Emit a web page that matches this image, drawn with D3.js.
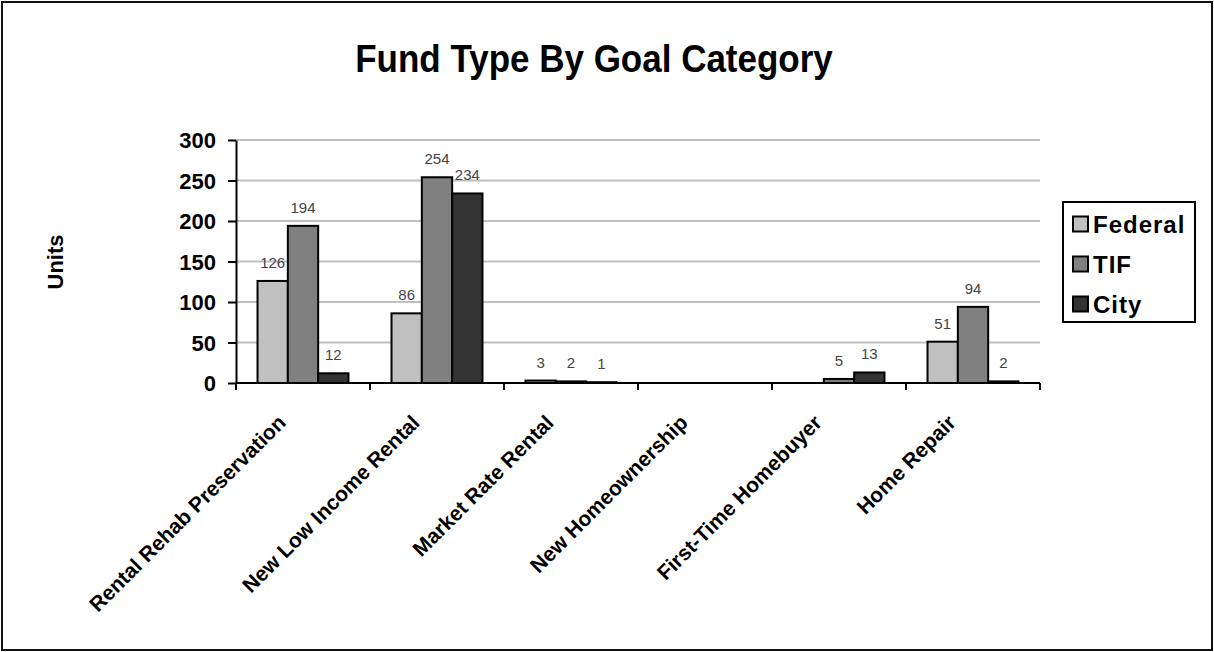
<!DOCTYPE html>
<html>
<head>
<meta charset="utf-8">
<script src="https://cdn.jsdelivr.net/npm/d3@7"></script>
<style>
  html, body { margin: 0; padding: 0; background: #fff; }
  svg { display: block; font-family: "Liberation Sans", Arial, sans-serif; }
</style>
</head>
<body>
<svg id="chart" width="1214" height="652"></svg>
<script>
// Goal categories and units per fund type
const categories = [
  "Rental Rehab Preservation",
  "New Low Income Rental",
  "Market Rate Rental",
  "New Homeownership",
  "First-Time Homebuyer",
  "Home Repair"
];
const seriesNames = ["Federal", "TIF", "City"];
const federal = [126, 86, 3, 0, 0, 51];
const tif = [194, 254, 2, 0, 5, 94];
const city = [12, 234, 1, 0, 13, 2];
const yTicks = [0, 50, 100, 150, 200, 250, 300];
const colors = ["#c0c0c0", "#808080", "#333333"];

const seriesValues = [federal, tif, city];

const svg = d3.select("#chart");
const W = 1214, H = 652;

// outer frame
svg.append("rect")
  .attr("x", 2).attr("y", 2).attr("width", W - 4).attr("height", H - 4)
  .attr("fill", "#fff").attr("stroke", "#111").attr("stroke-width", 2);

const plot = { left: 236, right: 1040, top: 140, bottom: 383 };

const x = d3.scaleBand().domain(categories).range([plot.left, plot.right]).padding(0);
const xs = d3.scaleBand().domain(seriesNames)
  .range([0, x.bandwidth()]).paddingInner(0).paddingOuter(0.71);
const y = d3.scaleLinear().domain([0, 300]).range([plot.bottom, plot.top]);

// title
svg.append("text")
  .attr("x", 594).attr("y", 72)
  .attr("text-anchor", "middle")
  .attr("font-size", 35).attr("font-weight", "bold")
  .attr("transform", "translate(0,-7) scale(1,1.1)")
  .text("Fund Type By Goal Category");

// gridlines
svg.append("g").selectAll("line")
  .data(yTicks.filter(d => d > 0))
  .join("line")
  .attr("x1", plot.left).attr("x2", plot.right)
  .attr("y1", d => y(d)).attr("y2", d => y(d))
  .attr("stroke", "#c0c0c0").attr("stroke-width", 2);

// bars
const groups = svg.append("g").selectAll("g")
  .data(categories)
  .join("g")
  .attr("transform", d => `translate(${x(d)},0)`);

groups.selectAll("rect")
  .data((c, i) => seriesNames.map((s, j) => ({ s, v: seriesValues[j][i], j })))
  .join("rect")
  .attr("x", d => xs(d.s))
  .attr("width", xs.bandwidth())
  .attr("y", d => y(d.v))
  .attr("height", d => y(0) - y(d.v))
  .attr("fill", d => colors[d.j])
  .attr("stroke", "#000").attr("stroke-width", 2)
  .style("display", d => d.v > 0 ? null : "none");

// value labels
groups.selectAll("text")
  .data((c, i) => seriesNames.map((s, j) => ({ s, v: seriesValues[j][i], j })).filter(d => d.v > 0))
  .join("text")
  .attr("x", d => xs(d.s) + xs.bandwidth() / 2)
  .attr("y", d => y(d.v) - 13)
  .attr("text-anchor", "middle")
  .attr("font-size", 15).attr("fill", "#444")
  .text(d => d.v);

// y axis
const yAxis = svg.append("g")
  .attr("transform", `translate(${plot.left},0)`)
  .call(d3.axisLeft(y).tickValues(yTicks).tickSize(8).tickPadding(12).tickSizeOuter(0));
yAxis.select(".domain").attr("stroke", "#000").attr("stroke-width", 2);
yAxis.selectAll(".tick line").attr("stroke", "#000").attr("stroke-width", 2);
yAxis.selectAll(".tick text")
  .attr("font-family", "Liberation Sans, Arial, sans-serif")
  .attr("font-size", 22).attr("font-weight", "bold").attr("fill", "#000")
  .attr("dy", "0.36em");

// x axis: ticks at category boundaries
const xAxis = svg.append("g").attr("transform", `translate(0,${plot.bottom})`);
xAxis.append("line")
  .attr("x1", plot.left).attr("x2", plot.right)
  .attr("stroke", "#000").attr("stroke-width", 2);
const boundaries = categories.map(c => x(c)).concat([x(categories[categories.length - 1]) + x.bandwidth()]);
xAxis.selectAll("line.tk")
  .data(boundaries)
  .join("line").attr("class", "tk")
  .attr("x1", d => d).attr("x2", d => d)
  .attr("y1", 0).attr("y2", 7)
  .attr("stroke", "#000").attr("stroke-width", 2);

// category labels, rotated
svg.append("g").selectAll("text")
  .data(categories)
  .join("text")
  .attr("transform", d => `translate(${x(d) + x.bandwidth() / 2 - 16},424) rotate(-45)`)
  .attr("text-anchor", "end")
  .attr("font-size", 21).attr("font-weight", "bold")
  .text(d => d);

// y axis title
svg.append("text")
  .attr("transform", "translate(63,262) rotate(-90)")
  .attr("text-anchor", "middle")
  .attr("font-size", 22).attr("font-weight", "bold")
  .text("Units");

// legend
const legend = svg.append("g");
legend.append("rect")
  .attr("x", 1063).attr("y", 202).attr("width", 132).attr("height", 120)
  .attr("fill", "#fff").attr("stroke", "#000").attr("stroke-width", 2);
const items = legend.selectAll("g.item")
  .data(seriesNames)
  .join("g").attr("class", "item")
  .attr("transform", (d, i) => `translate(1073,${224 + i * 40})`);
items.append("rect")
  .attr("x", 0).attr("y", -7.5).attr("width", 15).attr("height", 15)
  .attr("fill", (d, i) => colors[i]).attr("stroke", "#000").attr("stroke-width", 2);
items.append("text")
  .attr("x", 20).attr("y", 0).attr("dy", "0.36em")
  .attr("font-size", 24).attr("font-weight", "bold")
  .attr("letter-spacing", 1)
  .text(d => d);
</script>
</body>
</html>
